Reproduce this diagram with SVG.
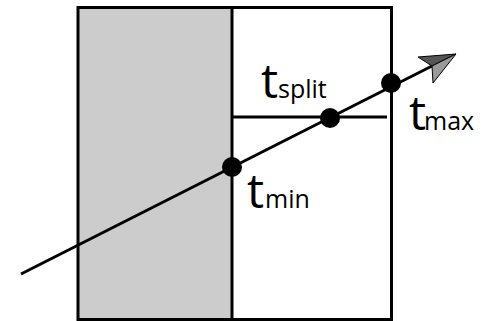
<svg xmlns="http://www.w3.org/2000/svg" width="490" height="321" viewBox="0 0 490 321">
<style>
.ln{stroke:#000;stroke-width:3;fill:none}
.dot{fill:#000}
.lbl{font-family:"Open Sans","Noto Sans",sans-serif;fill:#000}
.big{font-size:48px}
.sub{font-size:25px}
</style>
<g id="box">
<rect x="78" y="7.5" width="154" height="312" fill="#cccccc"/>
<rect x="78" y="7.5" width="313.5" height="312" class="ln"/>
<line x1="232" y1="7.5" x2="232" y2="319.5" class="ln"/>
<line x1="232" y1="117" x2="387" y2="117" class="ln"/>
</g>
<g id="connectors">
<line x1="21" y1="274" x2="433" y2="65.5" class="ln"/>
<polygon points="456,54 418,57 432,66" fill="#555" stroke="#000" stroke-width="1" stroke-linejoin="round"/>
<polygon points="456,54 432,66 433,83" fill="#9a9a9a" stroke="#000" stroke-width="1" stroke-linejoin="round"/>
</g>
<g id="tmin">
<circle cx="232" cy="167" r="10" class="dot"/>
<text class="lbl" y="208"><tspan x="247" class="big">t</tspan><tspan x="265" class="sub">min</tspan></text>
</g>
<g id="tsplit">
<circle cx="330" cy="118" r="10" class="dot"/>
<text class="lbl" y="98"><tspan x="261" class="big">t</tspan><tspan x="278" class="sub">split</tspan></text>
</g>
<g id="tmax">
<circle cx="391" cy="83" r="10" class="dot"/>
<text class="lbl" y="130"><tspan x="409" class="big">t</tspan><tspan x="424" class="sub">max</tspan></text>
</g>
</svg>
